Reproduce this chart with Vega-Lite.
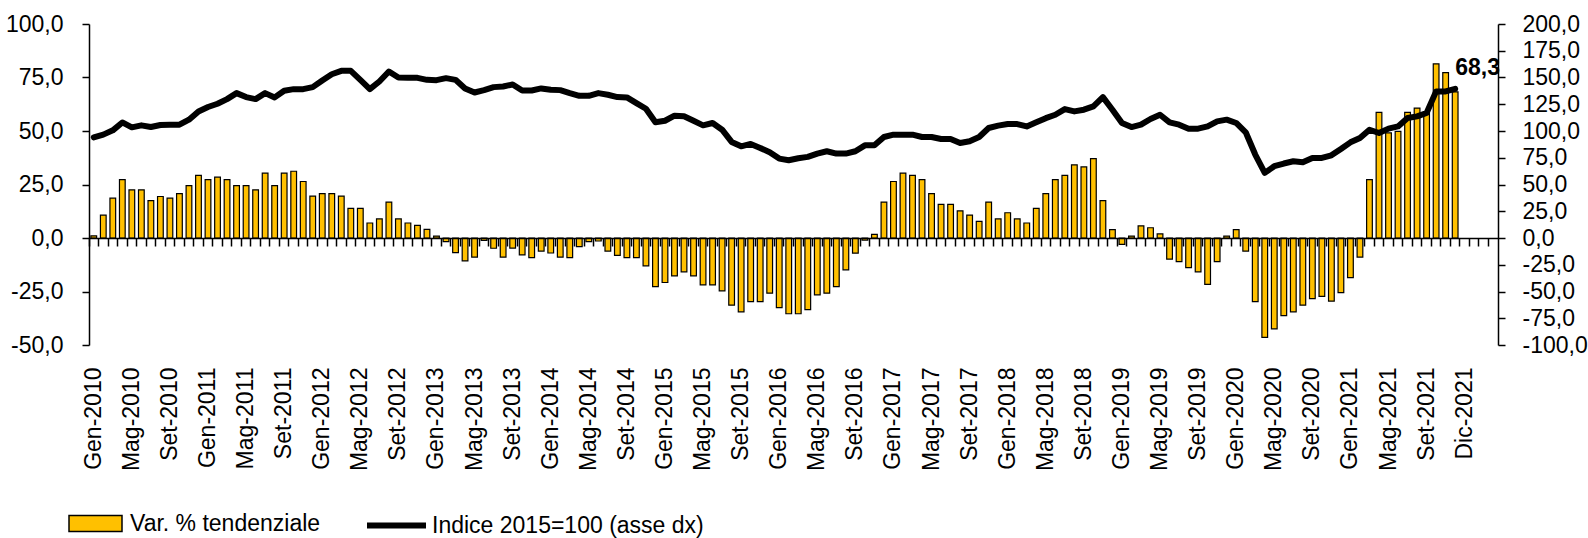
{
  "$schema": "https://vega.github.io/schema/vega-lite/v6.json",
  "width": 1409,
  "height": 321,
  "autosize": {"type": "none"},
  "padding": {"left": 89, "top": 24, "right": 90, "bottom": 193},
  "background": "white",
  "config": {
    "view": {"stroke": null},
    "font": "Liberation Sans, Arial",
    "locale": {"number": {"decimal": ",", "thousands": ".", "grouping": [3], "currency": ["", " €"], "minus": "-"}},
    "axis": {"labelFont": "Liberation Sans, Arial", "labelFontSize": 23, "labelColor": "black", "domainColor": "black", "tickColor": "black", "domainWidth": 1.5, "tickWidth": 1.5, "grid": false},
    "legend": {"labelFont": "Liberation Sans, Arial", "labelFontSize": 23, "labelColor": "black", "labelLimit": 0}
  },
  "data": {"values": [
    {"m":"Gen-2010","v":1.0,"r":94.1},{"m":"Feb-2010","v":10.7,"r":96.6},{"m":"Mar-2010","v":18.6,"r":100.6},{"m":"Apr-2010","v":27.3,"r":108},{"m":"Mag-2010","v":22.5,"r":103.4},{"m":"Giu-2010","v":22.5,"r":105.3},{"m":"Lug-2010","v":17.5,"r":103.7},{"m":"Ago-2010","v":19.4,"r":105.6},{"m":"Set-2010","v":18.6,"r":105.9},{"m":"Ott-2010","v":20.7,"r":105.9},{"m":"Nov-2010","v":24.5,"r":110.6},{"m":"Dic-2010","v":29.3,"r":118.3},
    {"m":"Gen-2011","v":27.3,"r":122.4},{"m":"Feb-2011","v":28.4,"r":125.5},{"m":"Mar-2011","v":27.3,"r":129.8},{"m":"Apr-2011","v":24.5,"r":135.4},{"m":"Mag-2011","v":24.5,"r":131.7},{"m":"Giu-2011","v":22.5,"r":129.8},{"m":"Lug-2011","v":30.3,"r":135.4},{"m":"Ago-2011","v":24.5,"r":131.4},{"m":"Set-2011","v":30.3,"r":137.6},{"m":"Ott-2011","v":31.2,"r":139.1},{"m":"Nov-2011","v":26.4,"r":139.1},{"m":"Dic-2011","v":19.6,"r":141},
    {"m":"Gen-2012","v":20.7,"r":147.2},{"m":"Feb-2012","v":20.7,"r":153},{"m":"Mar-2012","v":19.6,"r":156.2},{"m":"Apr-2012","v":13.8,"r":156.2},{"m":"Mag-2012","v":13.8,"r":147.8},{"m":"Giu-2012","v":7.0,"r":139.1},{"m":"Lug-2012","v":8.9,"r":146.3},{"m":"Ago-2012","v":16.8,"r":155.6},{"m":"Set-2012","v":8.9,"r":150},{"m":"Ott-2012","v":7.0,"r":149.7},{"m":"Nov-2012","v":5.9,"r":149.7},{"m":"Dic-2012","v":4.0,"r":147.8},
    {"m":"Gen-2013","v":0.9,"r":147.5},{"m":"Feb-2013","v":-1.7,"r":149.4},{"m":"Mar-2013","v":-6.8,"r":147.8},{"m":"Apr-2013","v":-10.7,"r":139.8},{"m":"Mag-2013","v":-8.9,"r":136},{"m":"Giu-2013","v":-1.1,"r":138.2},{"m":"Lug-2013","v":-4.8,"r":141},{"m":"Ago-2013","v":-8.9,"r":141.6},{"m":"Set-2013","v":-4.7,"r":143.5},{"m":"Ott-2013","v":-7.9,"r":137.9},{"m":"Nov-2013","v":-9.2,"r":137.9},{"m":"Dic-2013","v":-6.1,"r":139.8},
    {"m":"Gen-2014","v":-7.0,"r":138.5},{"m":"Feb-2014","v":-8.9,"r":138.2},{"m":"Mar-2014","v":-9.2,"r":135.4},{"m":"Apr-2014","v":-4.0,"r":132.9},{"m":"Mag-2014","v":-1.7,"r":132.9},{"m":"Giu-2014","v":-1.4,"r":135.4},{"m":"Lug-2014","v":-6.1,"r":133.9},{"m":"Ago-2014","v":-8.1,"r":131.7},{"m":"Set-2014","v":-9.2,"r":131.4},{"m":"Ott-2014","v":-9.2,"r":126.1},{"m":"Nov-2014","v":-13.0,"r":120.8},{"m":"Dic-2014","v":-22.7,"r":108.1},
    {"m":"Gen-2015","v":-20.8,"r":109.6},{"m":"Feb-2015","v":-17.7,"r":114.3},{"m":"Mar-2015","v":-15.8,"r":113.7},{"m":"Apr-2015","v":-17.7,"r":109.6},{"m":"Mag-2015","v":-21.9,"r":105.3},{"m":"Giu-2015","v":-21.9,"r":107.5},{"m":"Lug-2015","v":-24.7,"r":101.2},{"m":"Ago-2015","v":-31.4,"r":89.8},{"m":"Set-2015","v":-34.5,"r":85.7},{"m":"Ott-2015","v":-29.7,"r":87.9},{"m":"Nov-2015","v":-29.7,"r":84.2},{"m":"Dic-2015","v":-25.8,"r":80.1},
    {"m":"Gen-2016","v":-32.5,"r":74.2},{"m":"Feb-2016","v":-35.4,"r":72.7},{"m":"Mar-2016","v":-35.4,"r":74.5},{"m":"Apr-2016","v":-33.5,"r":75.8},{"m":"Mag-2016","v":-26.6,"r":78.9},{"m":"Giu-2016","v":-25.8,"r":81.1},{"m":"Lug-2016","v":-22.7,"r":78.9},{"m":"Ago-2016","v":-14.9,"r":78.9},{"m":"Set-2016","v":-7.1,"r":81.1},{"m":"Ott-2016","v":-1.0,"r":86.6},{"m":"Nov-2016","v":1.7,"r":86.6},{"m":"Dic-2016","v":16.8,"r":94.4},
    {"m":"Gen-2017","v":26.4,"r":96.6},{"m":"Feb-2017","v":30.3,"r":96.6},{"m":"Mar-2017","v":29.3,"r":96.6},{"m":"Apr-2017","v":27.3,"r":94.4},{"m":"Mag-2017","v":20.7,"r":94.4},{"m":"Giu-2017","v":15.7,"r":92.5},{"m":"Lug-2017","v":15.7,"r":92.5},{"m":"Ago-2017","v":12.7,"r":88.8},{"m":"Set-2017","v":10.7,"r":90.4},{"m":"Ott-2017","v":7.8,"r":94.4},{"m":"Nov-2017","v":16.8,"r":102.8},{"m":"Dic-2017","v":8.9,"r":105},
    {"m":"Gen-2018","v":11.8,"r":106.5},{"m":"Feb-2018","v":8.9,"r":106.5},{"m":"Mar-2018","v":7.0,"r":104.3},{"m":"Apr-2018","v":13.8,"r":108.1},{"m":"Mag-2018","v":20.7,"r":112},{"m":"Giu-2018","v":27.3,"r":115.2},{"m":"Lug-2018","v":29.3,"r":120.5},{"m":"Ago-2018","v":34.2,"r":118.3},{"m":"Set-2018","v":33.2,"r":119.9},{"m":"Ott-2018","v":37.1,"r":123},{"m":"Nov-2018","v":17.5,"r":131.7},{"m":"Dic-2018","v":3.9,"r":119.9},
    {"m":"Gen-2019","v":-3.0,"r":107.5},{"m":"Feb-2019","v":0.9,"r":103.7},{"m":"Mar-2019","v":5.7,"r":105.9},{"m":"Apr-2019","v":4.8,"r":111.2},{"m":"Mag-2019","v":1.9,"r":115.2},{"m":"Giu-2019","v":-9.9,"r":108.1},{"m":"Lug-2019","v":-11.0,"r":105.9},{"m":"Ago-2019","v":-13.8,"r":102.2},{"m":"Set-2019","v":-15.8,"r":102.2},{"m":"Ott-2019","v":-21.7,"r":104.3},{"m":"Nov-2019","v":-11.0,"r":109},{"m":"Dic-2019","v":0.9,"r":110.6},
    {"m":"Gen-2020","v":3.9,"r":107.5},{"m":"Feb-2020","v":-6.1,"r":98.8},{"m":"Mar-2020","v":-29.7,"r":78},{"m":"Apr-2020","v":-46.4,"r":60.9},{"m":"Mag-2020","v":-42.5,"r":67.1},{"m":"Giu-2020","v":-36.3,"r":69.6},{"m":"Lug-2020","v":-34.5,"r":71.7},{"m":"Ago-2020","v":-31.4,"r":70.8},{"m":"Set-2020","v":-28.3,"r":74.8},{"m":"Ott-2020","v":-27.3,"r":74.8},{"m":"Nov-2020","v":-29.5,"r":77.3},{"m":"Dic-2020","v":-25.5,"r":83.2},
    {"m":"Gen-2021","v":-18.5,"r":89.4},{"m":"Feb-2021","v":-8.9,"r":93.5},{"m":"Mar-2021","v":27.3,"r":101.2},{"m":"Apr-2021","v":58.7,"r":98.1},{"m":"Mag-2021","v":49.1,"r":102.2},{"m":"Giu-2021","v":49.8,"r":104.3},{"m":"Lug-2021","v":58.7,"r":112.1},{"m":"Ago-2021","v":60.7,"r":113.7},{"m":"Set-2021","v":58.4,"r":116.8},{"m":"Ott-2021","v":81.4,"r":137},{"m":"Nov-2021","v":77.3,"r":137},{"m":"Dic-2021","v":68.3,"r":139.4}
  ]},
  "layer": [
    {
      "mark": {"type": "bar", "stroke": "black", "strokeWidth": 1.2},
      "encoding": {
        "x": {
          "field": "m", "type": "ordinal",
          "scale": {
            "domain": ["Gen-2010","Feb-2010","Mar-2010","Apr-2010","Mag-2010","Giu-2010","Lug-2010","Ago-2010","Set-2010","Ott-2010","Nov-2010","Dic-2010","Gen-2011","Feb-2011","Mar-2011","Apr-2011","Mag-2011","Giu-2011","Lug-2011","Ago-2011","Set-2011","Ott-2011","Nov-2011","Dic-2011","Gen-2012","Feb-2012","Mar-2012","Apr-2012","Mag-2012","Giu-2012","Lug-2012","Ago-2012","Set-2012","Ott-2012","Nov-2012","Dic-2012","Gen-2013","Feb-2013","Mar-2013","Apr-2013","Mag-2013","Giu-2013","Lug-2013","Ago-2013","Set-2013","Ott-2013","Nov-2013","Dic-2013","Gen-2014","Feb-2014","Mar-2014","Apr-2014","Mag-2014","Giu-2014","Lug-2014","Ago-2014","Set-2014","Ott-2014","Nov-2014","Dic-2014","Gen-2015","Feb-2015","Mar-2015","Apr-2015","Mag-2015","Giu-2015","Lug-2015","Ago-2015","Set-2015","Ott-2015","Nov-2015","Dic-2015","Gen-2016","Feb-2016","Mar-2016","Apr-2016","Mag-2016","Giu-2016","Lug-2016","Ago-2016","Set-2016","Ott-2016","Nov-2016","Dic-2016","Gen-2017","Feb-2017","Mar-2017","Apr-2017","Mag-2017","Giu-2017","Lug-2017","Ago-2017","Set-2017","Ott-2017","Nov-2017","Dic-2017","Gen-2018","Feb-2018","Mar-2018","Apr-2018","Mag-2018","Giu-2018","Lug-2018","Ago-2018","Set-2018","Ott-2018","Nov-2018","Dic-2018","Gen-2019","Feb-2019","Mar-2019","Apr-2019","Mag-2019","Giu-2019","Lug-2019","Ago-2019","Set-2019","Ott-2019","Nov-2019","Dic-2019","Gen-2020","Feb-2020","Mar-2020","Apr-2020","Mag-2020","Giu-2020","Lug-2020","Ago-2020","Set-2020","Ott-2020","Nov-2020","Dic-2020","Gen-2021","Feb-2021","Mar-2021","Apr-2021","Mag-2021","Giu-2021","Lug-2021","Ago-2021","Set-2021","Ott-2021","Nov-2021","Dic-2021","p1","p2","p3","p4"],
            "paddingInner": 0.4, "paddingOuter": 0.2
          },
          "axis": {
            "orient": "bottom", "title": null, "domain": false, "ticks": false,
            "labelAngle": -90, "labelPadding": 22, "labelOverlap": false,
            "labelExpr": "datum.value == 'p1' ? 'Dic-2021' : (indexof(['Gen','Mag','Set'], slice(datum.value, 0, 3)) >= 0 ? datum.value : '')"
          }
        },
        "y": {
          "field": "v", "type": "quantitative",
          "scale": {"domain": [-50, 100], "nice": false},
          "axis": {"orient": "left", "title": null, "values": [-50, -25, 0, 25, 50, 75, 100], "format": ".1f", "tickSize": 7, "labelPadding": 19}
        },
        "fill": {
          "datum": "Var. % tendenziale", "type": "nominal",
          "scale": {"range": ["#FFC000"]},
          "legend": {"title": null, "orient": "none", "legendX": -21, "legendY": 472, "symbolType": "M-1,-0.3H1V0.3H-1Z", "symbolSize": 2809, "symbolStrokeColor": "black", "symbolStrokeWidth": 1.5, "symbolOpacity": 1, "labelOffset": 7}
        }
      }
    },
    {
      "mark": {"type": "line", "strokeWidth": 6, "strokeJoin": "round", "strokeCap": "round"},
      "encoding": {
        "x": {
          "field": "m", "type": "ordinal",
          "axis": {"orient": "bottom", "offset": -107, "title": null, "labels": false, "tickSize": 8, "bandPosition": -0.3333, "zindex": 1}
        },
        "y": {
          "field": "r", "type": "quantitative",
          "scale": {"domain": [-100, 200], "nice": false},
          "axis": {"orient": "right", "title": null, "values": [-100, -75, -50, -25, 0, 25, 50, 75, 100, 125, 150, 175, 200], "format": ".1f", "tickSize": 7, "labelPadding": 17}
        },
        "stroke": {
          "datum": "Indice 2015=100 (asse dx)", "type": "nominal",
          "scale": {"range": ["black"]},
          "legend": {"title": null, "orient": "none", "legendX": 275, "legendY": 469, "symbolType": "stroke", "symbolSize": 3481, "symbolStrokeWidth": 6, "labelOffset": 3}
        }
      }
    },
    {
      "transform": [{"filter": "datum.m == 'Dic-2021'"}],
      "mark": {"type": "text", "align": "left", "baseline": "alphabetic", "dy": -17, "fontWeight": "bold", "fontSize": 23, "font": "Liberation Sans, Arial", "color": "black"},
      "encoding": {
        "x": {"field": "m", "type": "ordinal", "axis": null},
        "y": {"field": "v", "type": "quantitative", "scale": {"domain": [-50, 100], "nice": false}, "axis": null},
        "text": {"field": "v", "type": "quantitative", "format": ".1f"}
      }
    }
  ],
  "resolve": {"scale": {"y": "independent"}, "axis": {"x": "independent", "y": "independent"}}
}
